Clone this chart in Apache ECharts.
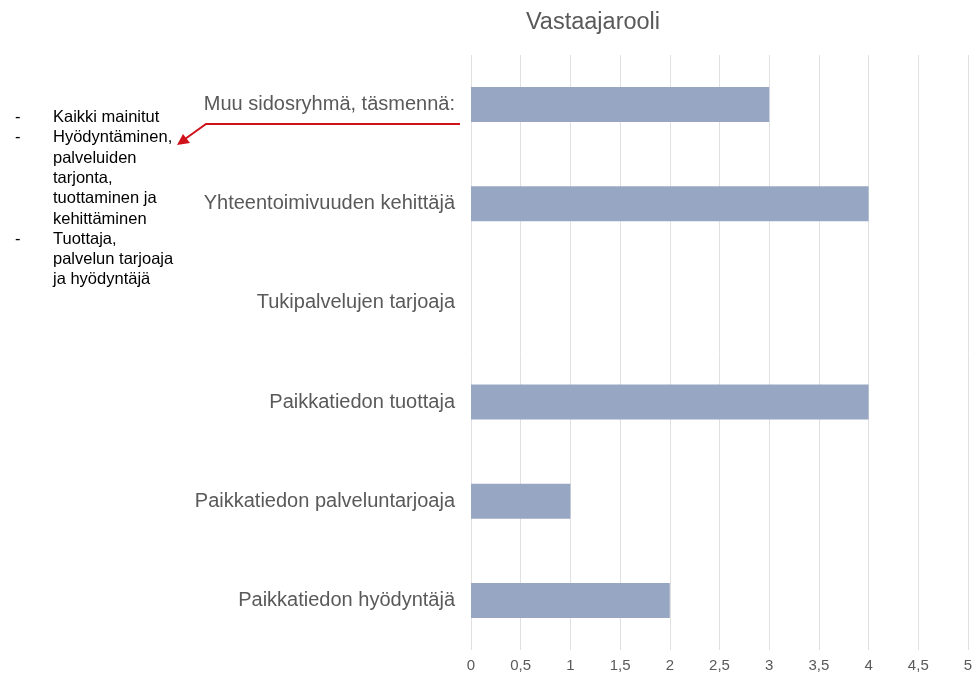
<!DOCTYPE html>
<html>
<head>
<meta charset="utf-8">
<script src="https://cdn.jsdelivr.net/npm/echarts@6/dist/echarts.min.js"></script>
<style>
  html, body { margin: 0; padding: 0; background: #fff; }
  #chart { width: 976px; height: 675px; }
</style>
</head>
<body>
<div id="chart"></div>
<script>
const categories = [
  'Muu sidosryhmä, täsmennä:',
  'Yhteentoimivuuden kehittäjä',
  'Tukipalvelujen tarjoaja',
  'Paikkatiedon tuottaja',
  'Paikkatiedon palveluntarjoaja',
  'Paikkatiedon hyödyntäjä'
];
const counts = [3, 4, 0, 4, 1, 2];
const noteLines = [
  ['-', 'Kaikki mainitut'],
  ['-', 'Hyödyntäminen,'],
  ['', 'palveluiden'],
  ['', 'tarjonta,'],
  ['', 'tuottaminen ja'],
  ['', 'kehittäminen'],
  ['-', 'Tuottaja,'],
  ['', 'palvelun tarjoaja'],
  ['', 'ja hyödyntäjä']
];

const font = 'Liberation Sans, Arial, sans-serif';
const noteGraphics = [];
noteLines.forEach((l, i) => {
  const y = 109 + i * 20.3;
  if (l[0]) noteGraphics.push({ type: 'text', left: 15, top: y, style: { text: l[0], fill: '#000', font: '16.5px ' + font } });
  noteGraphics.push({ type: 'text', left: 53, top: y, style: { text: l[1], fill: '#000', font: '16.5px ' + font } });
});

let chart = echarts.init(document.getElementById('chart'));
chart.setOption({
  animation: false,
  title: {
    text: 'Vastaajarooli',
    left: 588,
    textAlign: 'center',
    top: 6,
    textStyle: { color: '#595959', fontSize: 23.5, fontWeight: 'normal', fontFamily: font }
  },
  grid: { left: 471, right: 8, top: 55, bottom: 25, containLabel: false },
  xAxis: {
    type: 'value',
    min: 0,
    max: 5,
    interval: 0.5,
    axisLine: { show: false },
    axisTick: { show: false },
    splitLine: { lineStyle: { color: '#e0e0e0', width: 1 } },
    axisLabel: {
      color: '#595959',
      fontSize: 15,
      fontFamily: font,
      margin: 8,
      formatter: v => String(v).replace('.', ',')
    }
  },
  yAxis: {
    type: 'category',
    data: categories,
    inverse: true,
    axisLine: { show: false },
    axisTick: { show: false },
    axisLabel: { color: '#595959', fontSize: 20, fontFamily: font, margin: 16 }
  },
  series: [{
    type: 'bar',
    data: counts,
    barWidth: 35,
    itemStyle: { color: '#97a7c3' }
  }],
  graphic: noteGraphics.concat([
    {
      type: 'polyline',
      shape: { points: [[460, 124], [206, 124], [185, 139]] },
      style: { stroke: '#d0121b', lineWidth: 2, fill: null }
    },
    {
      type: 'polygon',
      shape: { points: [[177, 145], [183, 134], [190, 143]] },
      style: { fill: '#d0121b' }
    }
  ])
});
</script>
</body>
</html>
